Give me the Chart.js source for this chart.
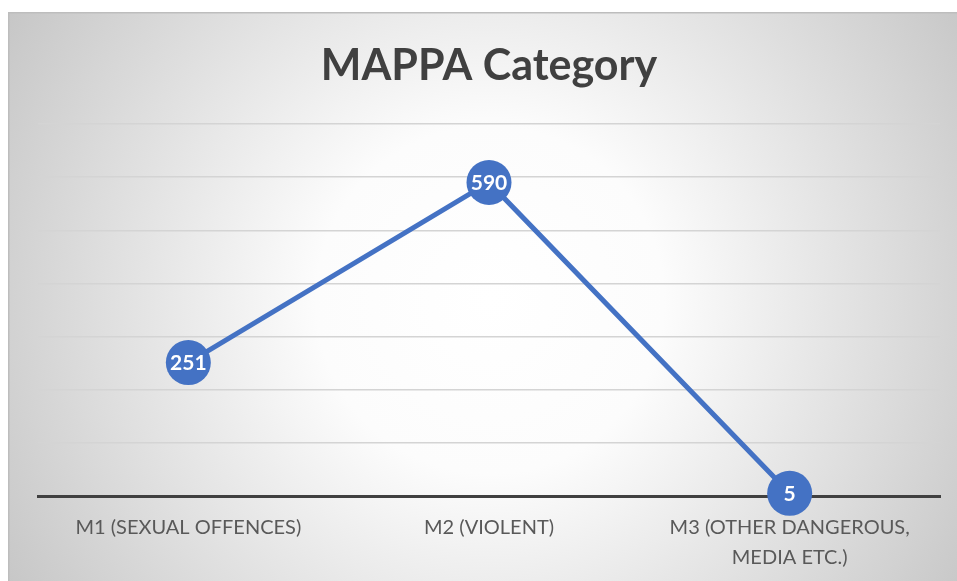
<!DOCTYPE html>
<html>
<head>
<meta charset="utf-8">
<script src="https://cdn.jsdelivr.net/npm/chart.js@4/dist/chart.umd.min.js"></script>
<style>
html,body{margin:0;padding:0;background:#fff;}
#wrap{width:957px;height:581px;position:relative;}
</style>
</head>
<body>
<div id="wrap"><canvas id="c" width="957" height="581"></canvas></div>
<script>
const categories = ["M1 (SEXUAL OFFENCES)", "M2 (VIOLENT)", ["M3 (OTHER DANGEROUS,", "MEDIA ETC.)"]];
const values = [251, 590, 5];
const yTicks = {min: 0, max: 700, step: 100};
const chartTitle = "MAPPA Category";

const bgPlugin = {
  id: 'bg',
  beforeDraw(chart) {
    const ctx = chart.ctx;
    ctx.save();
    ctx.fillStyle = '#ffffff';
    ctx.fillRect(0, 0, chart.width, chart.height);
    const g = ctx.createRadialGradient(490, 300, 0, 490, 300, 580);
    g.addColorStop(0, '#ffffff');
    g.addColorStop(0.3, '#fcfcfc');
    g.addColorStop(1, '#c4c4c4');
    ctx.fillStyle = g;
    ctx.fillRect(8, 12, chart.width - 8, chart.height - 12);
    ctx.strokeStyle = '#bdbdbd';
    ctx.lineWidth = 1.5;
    ctx.beginPath();
    ctx.moveTo(8.75, chart.height);
    ctx.lineTo(8.75, 12.75);
    ctx.lineTo(chart.width, 12.75);
    ctx.stroke();
    ctx.restore();
  }
};

const labelPlugin = {
  id: 'dlabels',
  afterDatasetsDraw(chart) {
    const ctx = chart.ctx;
    const meta = chart.getDatasetMeta(0);
    ctx.save();
    ctx.fillStyle = '#ffffff';
    ctx.font = 'bold 21px Lato, sans-serif';
    ctx.textAlign = 'center';
    ctx.textBaseline = 'middle';
    meta.data.forEach((pt, i) => {
      ctx.fillText(String(values[i]), pt.x, pt.y + 1);
    });
    ctx.restore();
  }
};

new Chart(document.getElementById('c'), {
  type: 'line',
  data: {
    labels: categories,
    datasets: [{
      data: values,
      borderColor: '#4472C4',
      backgroundColor: '#4472C4',
      borderWidth: 5,
      pointRadius: 22.5,
      pointHoverRadius: 22.5,
      pointBackgroundColor: '#4472C4',
      pointBorderWidth: 0,
      tension: 0,
      clip: false
    }]
  },
  options: {
    responsive: false,
    animation: false,
    events: [],
    layout: {autoPadding: false, padding: {left: 38, right: 17, top: 12, bottom: 10}},
    plugins: {
      legend: {display: false},
      tooltip: {enabled: false},
      title: {
        display: true,
        text: chartTitle,
        color: '#404040',
        font: {family: 'Lato, sans-serif', size: 43, weight: 'bold', lineHeight: 1.2},
        padding: {top: 28.2, bottom: 32.2}
      }
    },
    scales: {
      x: {
        offset: true,
        afterFit(s) { s.height = 75; },
        grid: {display: false, drawTicks: false},
        border: {display: true, color: '#404040', width: 3},
        ticks: {color: '#595959', font: {family: 'Lato, sans-serif', size: 20, lineHeight: 1.5}, padding: 17, maxRotation: 0, autoSkip: false}
      },
      y: {
        min: yTicks.min,
        max: yTicks.max,
        afterFit(s) { s.width = 0; },
        ticks: {display: false, stepSize: yTicks.step},
        grid: {color: '#d4d4d4', lineWidth: 1.5, drawTicks: false},
        border: {display: false}
      }
    }
  },
  plugins: [bgPlugin, labelPlugin]
});
</script>
</body>
</html>
